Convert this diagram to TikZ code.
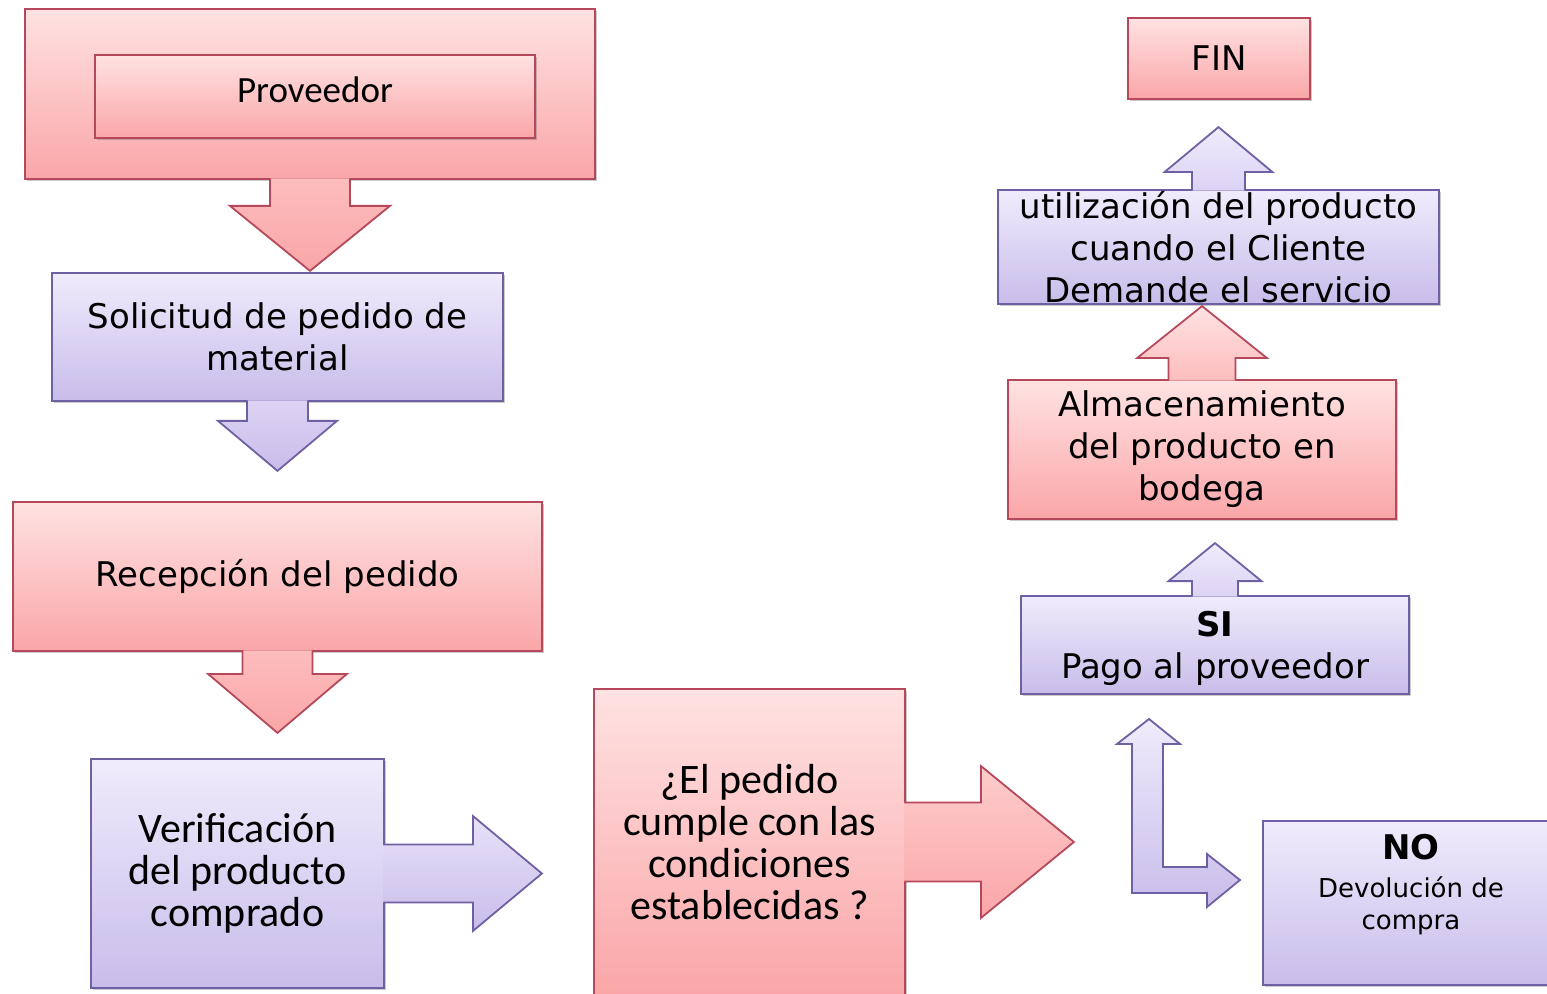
\documentclass[tikz,border=0pt]{standalone}
\usepackage{fontspec}
\setmainfont{DejaVu Sans}
\newfontfamily\calibfont{Carlito}
\usepackage{tikz}
\usetikzlibrary{calc,shadows}
\definecolor{pinktop}{HTML}{FFE2E2}
\definecolor{pinkmid}{HTML}{FDBDBD}
\definecolor{pinkbot}{HTML}{FAA6A8}
\definecolor{pinkline}{HTML}{B5495B}
\definecolor{lilatop}{HTML}{F0EBFC}
\definecolor{lilamid}{HTML}{DCD3F4}
\definecolor{lilabot}{HTML}{C8BDEA}
\definecolor{lilaline}{HTML}{6F5FA3}
\tikzset{
  pinkbox/.style={draw=pinkline,line width=0.9pt,top color=pinktop,
                  bottom color=pinkbot,inner sep=0pt,align=center,
                  font=\fontsize{17}{21}\selectfont,
                  drop shadow={shadow xshift=1.2pt,shadow yshift=-1.2pt,
                               opacity=0.35,fill=black!60}},
  lilabox/.style={draw=lilaline,line width=0.9pt,top color=lilatop,
                  bottom color=lilabot,inner sep=0pt,align=center,
                  font=\fontsize{17}{21}\selectfont,
                  drop shadow={shadow xshift=1.2pt,shadow yshift=-1.2pt,
                               opacity=0.35,fill=black!60}},
  pinkarr/.style={draw=pinkline,line width=0.9pt,top color=pinkmid,
                  bottom color=pinkbot},
  lilaarr/.style={draw=lilaline,line width=0.9pt,top color=lilamid,
                  bottom color=lilabot},
  calib/.style={font=\calibfont\fontsize{21}{21}\selectfont}
}
\begin{document}
\begin{tikzpicture}[x=0.5pt,y=-0.5pt]
    \path[use as bounding box] (0,0) rectangle (1547,994);

    % left column
    \node[pinkbox,minimum width=285pt,minimum height=85pt] (provout) at (310,94) {};
    \draw[pinkarr] ($(provout.south)+(-40,-1.5)$) -- ++(0,27.5) -- ++(-40,0)
      -- ++(80,65) -- ++(80,-65) -- ++(-40,0) -- ++(0,-27.5);
    \node[pinkbox,font=\calibfont\fontsize{18.5}{21}\selectfont,
      minimum width=220pt,minimum height=41.5pt,text depth=6.5pt] (prov) at (315,96.5)
      {Proveedor};

    \node[lilabox,minimum width=225.5pt,minimum height=64pt] (solic) at (277.5,337)
      {Solicitud de pedido de\\material};
    \draw[lilaarr] ($(solic.south)+(-30.5,-1.5)$) -- ++(0,20.5) -- ++(-29,0)
      -- ++(59.5,50) -- ++(59.5,-50) -- ++(-29,0) -- ++(0,-20.5);

    \node[pinkbox,minimum width=264.5pt,minimum height=74.5pt] (recep) at (277.5,576.5)
      {Recepción del pedido};
    \draw[pinkarr] ($(recep.south)+(-35,-1.5)$) -- ++(0,23.5) -- ++(-34.5,0)
      -- ++(69.5,59) -- ++(69.5,-59) -- ++(-34.5,0) -- ++(0,-23.5);

    \node[lilabox,calib,minimum width=146.5pt,minimum height=114.5pt] (verif) at (237.5,873.5)
      {Verificación\\del producto\\comprado};
    \draw[lilaarr,top color=lilatop!60!lilamid] ($(verif.east)+(-1.5,-29)$) -- ++(89.5,0)
      -- ++(0,-28.5) -- ++(69,57.5) -- ++(-69,57.5) -- ++(0,-28.5) -- ++(-89.5,0);

    % decision
    \node[pinkbox,calib,minimum width=155.5pt,minimum height=153pt] (cond) at (749.5,842)
      {¿El pedido\\cumple con las\\condiciones\\establecidas ?};
    \draw[pinkarr,top color=pinktop!40!pinkmid] ($(cond.east)+(-1.5,-39.5)$) -- ++(76.5,0)
      -- ++(0,-36.5) -- ++(93,76) -- ++(-93,76) -- ++(0,-36.5) -- ++(-76.5,0);

    % right column
    \coordinate (lup) at (1149,719);
    \coordinate (lright) at (1240,880);
    \draw[lilaarr,top color=lilatop] (lup) -- ++(31,25) -- ++(-17,0) -- (1163,867)
      -- (1207,867) -- ++(0,-13) -- (lright) -- (1207,907) -- ++(0,-14)
      -- (1132,893) -- (1132,744) -- ++(-15,0) -- cycle;

    \node[lilabox,minimum width=148.5pt,minimum height=82pt] (nobox) at (1411.5,903) {};
    \node[align=center,font=\fontsize{13}{16}\selectfont] (notxt) at (1411,885)
      {{\fontsize{17}{17}\selectfont\bfseries NO}\\[3pt]
       Devolución de\\compra};

    \node[lilabox,minimum width=194pt,minimum height=49pt,text depth=0pt] (si) at (1215,645)
      {{\bfseries SI}\\Pago al proveedor};
    \draw[lilaarr,top color=lilatop,bottom color=lilamid] ($(si.north)+(-23,1.5)$)
      -- ++(0,-15.5) -- ++(-23.5,0) -- ++(46.5,-38) -- ++(46.5,38) -- ++(-23.5,0) -- ++(0,15.5);

    \node[pinkbox,minimum width=194pt,minimum height=69.5pt] (almac) at (1202,449.5)
      {Almacenamiento\\del producto en\\bodega};
    \draw[pinkarr,top color=pinktop,bottom color=pinkmid] ($(almac.north)+(-33.5,1.5)$)
      -- ++(0,-22.5) -- ++(-31.5,0) -- ++(65,-52) -- ++(65,52) -- ++(-31.5,0) -- ++(0,22.5);

    \node[lilabox,minimum width=220.5pt,minimum height=57pt] (util) at (1218.5,247)
      {utilización del producto\\cuando el Cliente\\Demande el servicio};
    \draw[lilaarr,top color=lilatop,bottom color=lilamid] ($(util.north)+(-26.5,1.5)$)
      -- ++(0,-18.5) -- ++(-27.5,0) -- ++(54,-45) -- ++(54,45) -- ++(-27.5,0) -- ++(0,18.5);

    \node[pinkbox,minimum width=91pt,minimum height=40.5pt] (fin) at (1219,58.5) {FIN};
  \end{tikzpicture}
\end{document}
